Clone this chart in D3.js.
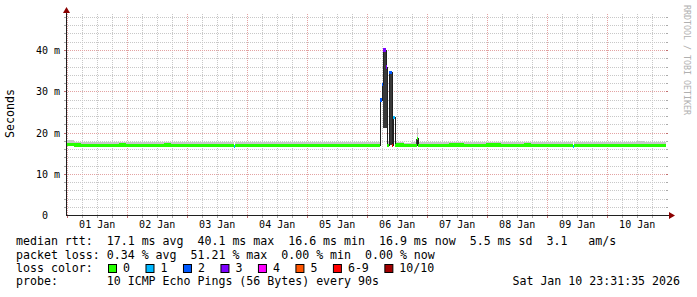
<!DOCTYPE html>
<html>
<head>
<meta charset="utf-8">
<script src="https://cdnjs.cloudflare.com/ajax/libs/d3/7.8.5/d3.min.js"></script>
<style>
  body { margin: 0; background: #fff; }
  svg text { font-family: "DejaVu Sans Mono", monospace; white-space: pre; }
  .plot rect, .plot path, .grid line, .axes line { shape-rendering: crispEdges; }
</style>
</head>
<body>
<div id="vis1"></div>
<script>
// graph window: 10 days ending at the time stamp
var graphStart = new Date(2025, 11, 31, 23, 31, 35),
    graphEnd = new Date(2026, 0, 10, 23, 31, 35);

var dayLabels = ["01 Jan", "02 Jan", "03 Jan", "04 Jan", "05 Jan", "06 Jan", "07 Jan", "08 Jan", "09 Jan", "10 Jan"];
var yTicks = [0, 10, 20, 30, 40];
var yUnit = "m";

var lossLabels = ["0", "1", "2", "3", "4", "5", "6-9", "10/10"];
var lossColors = ["#26ff00", "#00b8ff", "#0059ff", "#7e00ff", "#ff00ff", "#ff5500", "#ff0000", "#a10000"];

// median rtt (ms), one value per 3 hours
var baseStep = 3;
var baseMedian = [
  17.2, 17.1, 17.0, 17.0, 16.9, 17.0, 17.0, 17.1,
  17.0, 16.9, 17.0, 17.0, 17.0, 17.1, 17.0, 16.9,
  17.0, 17.0, 16.9, 17.0, 17.0, 17.0, 16.9, 17.0,
  17.0, 17.0, 17.0, 16.9, 17.0, 17.0, 17.0, 17.0,
  17.0, 16.9, 17.0, 17.0, 17.0, 17.0, 17.0, 17.0,
  17.0, 17.0, 17.0, 17.0, 17.1, 16.9, 17.0, 17.0,
  17.0, 17.0, 17.0, 17.1, 17.1, 17.0, 17.0, 17.0,
  17.1, 17.1, 17.0, 17.0, 17.0, 17.1, 17.0, 17.0,
  17.0, 17.0, 17.0, 16.9, 17.0, 17.0, 17.0, 17.0,
  17.0, 17.0, 17.0, 17.0, 17.0, 17.0, 16.9, 17.0
];
// top of the smoke (slowest ping) per 3 hours
var baseSmoke = [
  18.4, 17.8, 17.7, 17.9, 17.8, 17.7, 17.9, 17.8,
  17.7, 17.9, 17.8, 17.8, 17.7, 17.9, 17.8, 17.7,
  17.9, 17.8, 17.7, 17.8, 17.9, 17.7, 17.8, 17.7,
  17.8, 17.7, 17.9, 17.7, 17.8, 17.7, 17.8, 17.7,
  17.7, 17.8, 17.7, 17.7, 17.8, 17.7, 17.8, 17.9,
  17.8, 17.9, 17.7, 17.8, 17.7, 17.6, 17.8, 17.8,
  17.8, 17.9, 17.8, 17.8, 17.7, 17.8, 17.9, 17.8,
  17.9, 17.8, 17.8, 17.7, 17.8, 17.8, 17.9, 17.7,
  17.8, 17.7, 17.8, 17.9, 17.8, 17.7, 17.8, 17.7,
  17.8, 17.9, 17.7, 17.8, 18.0, 17.7, 17.8, 17.7
];

// short steps where something happened (hours after graph start)
var detailStep = 0.4;
var detailHours   = [67.2, 125.6, 126.0, 126.4, 126.8, 127.2, 127.6, 128.0, 128.4, 128.8, 129.2, 129.6, 130.0, 130.4, 130.8, 131.2, 140.0, 140.4, 202.8];
var detailMedian  = [16.8, 28.0, 28.0, 31.8, 40.1, 40.1, 40.1, 36.0, 17.0, 17.0, 34.7, 34.7, 34.7, 17.0, 23.7, 23.7, 17.0, 18.6, 16.8];
var detailLoss    = [1, 2, 2, 2, 3, 3, 3, 3, 0, 0, 2, 2, 2, 6, 1, 1, 0, 0, 1];
var detailHaze    = [0, 17.8, 17.8, 17.8, 21.3, 21.3, 21.3, 21.3, 17.8, 17.8, 17.8, 17.8, 17.8, 17.8, 17.8, 17.8, 17.8, 21.2, 0];
var detailSmokeLo = [0, 0, 0, 0, 21.3, 21.3, 21.3, 21.3, 0, 0, 17.0, 17.0, 17.0, 0, 0, 0, 17.0, 17.0, 0];
var detailSmokeHi = [0, 0, 0, 0, 40.1, 40.1, 40.1, 36.0, 0, 0, 34.7, 34.7, 34.7, 0, 0, 0, 18.6, 18.6, 0];

var statRows = [
  "median rtt:  17.1 ms avg  40.1 ms max  16.6 ms min  16.9 ms now  5.5 ms sd  3.1   am/s",
  "packet loss: 0.34 % avg  51.21 % max  0.00 % min  0.00 % now",
  "loss color:",
  "probe:       10 ICMP Echo Pings (56 Bytes) every 90s"
];
var stampText = "Sat Jan 10 23:31:35 2026";
var yTitle = "Seconds";
var watermark = "RRDTOOL / TOBI OETIKER";

var width = 697, height = 297;
var x0 = 66, x1 = 666, yBottom = 215.5, yTop = 14;

var svg = d3.select("#vis1")
    .append("svg")
    .attr("width", width)
    .attr("height", height);

svg.append("rect").attr("width", width).attr("height", height).attr("fill", "#fff");

var x = d3.scaleTime().domain([graphStart, graphEnd]).range([x0, x1]);
var y = d3.scaleLinear().domain([0, 40]).range([yBottom, 50.5]);

function hoursToDate(h) { return new Date(graphStart.getTime() + h * 3600000); }
function px(v) { return Math.round(v - 0.5) + 0.5; }

// grid
var grid = svg.append("g").attr("class", "grid");
var minorX = d3.timeHour.every(6).range(graphStart, graphEnd).filter(function(d) { return d.getHours() !== 0; });
var majorX = d3.timeDay.range(graphStart, graphEnd);
var minorY = d3.range(2, 49, 2).filter(function(v) { return v % 10 !== 0; });
var majorY = yTicks.filter(function(v) { return v > 0; });

grid.selectAll(".vminor").data(minorX).enter().append("line")
    .attr("x1", function(d) { return px(x(d)); }).attr("x2", function(d) { return px(x(d)); })
    .attr("y1", yTop).attr("y2", yBottom)
    .style("stroke", "#c8c8c8").style("stroke-dasharray", "1,1");
grid.selectAll(".hminor").data(minorY).enter().append("line")
    .attr("x1", x0).attr("x2", x1)
    .attr("y1", function(d) { return px(y(d)); }).attr("y2", function(d) { return px(y(d)); })
    .style("stroke", "#c8c8c8").style("stroke-dasharray", "1,1");
grid.selectAll(".vmajor").data(majorX).enter().append("line")
    .attr("x1", function(d) { return px(x(d)); }).attr("x2", function(d) { return px(x(d)); })
    .attr("y1", yTop).attr("y2", yBottom)
    .style("stroke", "#e3a3a3").style("stroke-dasharray", "1,1");
grid.selectAll(".hmajor").data(majorY).enter().append("line")
    .attr("x1", x0).attr("x2", x1)
    .attr("y1", function(d) { return px(y(d)); }).attr("y2", function(d) { return px(y(d)); })
    .style("stroke", "#e3a3a3").style("stroke-dasharray", "1,1");

// little outside ticks like rrdtool
grid.selectAll(".ytick").data(minorY.concat(majorY)).enter().append("line")
    .attr("x1", x0 - 2).attr("x2", x0)
    .attr("y1", function(d) { return px(y(d)); }).attr("y2", function(d) { return px(y(d)); })
    .style("stroke", function(d) { return d % 10 === 0 ? "#c07070" : "#aaa"; });
grid.selectAll(".ytickr").data(minorY.concat(majorY)).enter().append("line")
    .attr("x1", x1).attr("x2", x1 + 2)
    .attr("y1", function(d) { return px(y(d)); }).attr("y2", function(d) { return px(y(d)); })
    .style("stroke", function(d) { return d % 10 === 0 ? "#c07070" : "#aaa"; });
grid.selectAll(".xtick").data(minorX.concat(majorX)).enter().append("line")
    .attr("x1", function(d) { return px(x(d)); }).attr("x2", function(d) { return px(x(d)); })
    .attr("y1", yBottom).attr("y2", yBottom + 2)
    .style("stroke", function(d) { return d.getHours() === 0 ? "#c07070" : "#aaa"; });

// build samples: base steps with the detail steps cut in
var details = detailHours.map(function(h, i) {
  return {t0: h, t1: h + detailStep, med: detailMedian[i], loss: detailLoss[i],
          haze: detailHaze[i], lo: detailSmokeLo[i], hi: detailSmokeHi[i]};
});
var samples = [];
baseMedian.forEach(function(m, i) {
  var a = i * baseStep, b = a + baseStep, cur = a;
  var base = {med: m, loss: 0, haze: baseSmoke[i], lo: 0, hi: 0};
  details.filter(function(d) { return d.t1 > a && d.t0 < b; })
    .sort(function(p, q) { return p.t0 - q.t0; })
    .forEach(function(d) {
      if (d.t0 > cur) samples.push(Object.assign({t0: cur, t1: d.t0}, base));
      cur = Math.max(cur, d.t1);
    });
  if (cur < b) samples.push(Object.assign({t0: cur, t1: b}, base));
});
samples = samples.concat(details).sort(function(p, q) { return p.t0 - q.t0; });

var plot = svg.append("g").attr("class", "plot");

// light smoke
plot.selectAll(".haze").data(samples.filter(function(d) { return d.haze > 0; })).enter().append("rect")
    .attr("x", function(d) { return x(hoursToDate(d.t0)); })
    .attr("width", function(d) { return x(hoursToDate(d.t1)) - x(hoursToDate(d.t0)); })
    .attr("y", function(d) { return y(d.haze); })
    .attr("height", function(d) { return Math.max(0, y(d.med) - y(d.haze)); })
    .style("fill", "#c8c8c8");

// dark smoke where pings spread widely
plot.selectAll(".smoke").data(samples.filter(function(d) { return d.hi > 0; })).enter().append("rect")
    .attr("x", function(d) { return x(hoursToDate(d.t0)); })
    .attr("width", function(d) { return x(hoursToDate(d.t1)) - x(hoursToDate(d.t0)); })
    .attr("y", function(d) { return y(d.hi); })
    .attr("height", function(d) { return y(d.lo) - y(d.hi); })
    .style("fill", "#3a3a3a");

// median line (dark), then loss coloured bands on it
var linePts = samples.map(function(d) { return [hoursToDate(d.t0), d.med]; });
linePts.push([hoursToDate(samples[samples.length - 1].t1), samples[samples.length - 1].med]);
plot.append("path")
    .datum(linePts)
    .attr("d", d3.line().curve(d3.curveStepAfter)
      .x(function(d) { return x(d[0]); })
      .y(function(d) { return y(d[1]); }))
    .style("fill", "none")
    .style("stroke", "#202020")
    .style("stroke-width", 1);

plot.selectAll(".band").data(samples).enter().append("rect")
    .attr("x", function(d) { return x(hoursToDate(d.t0)); })
    .attr("width", function(d) { return x(hoursToDate(d.t1)) - x(hoursToDate(d.t0)); })
    .attr("y", function(d) { return y(d.med) - 1.7; })
    .attr("height", 3.4)
    .style("fill", function(d) { return lossColors[d.loss]; });

// axes with arrows
var axisG = svg.append("g").attr("class", "axes");
axisG.append("line").attr("x1", x0).attr("x2", x1 + 4).attr("y1", yBottom).attr("y2", yBottom)
    .style("stroke", "#202020");
axisG.append("line").attr("x1", x0 + 0.5).attr("x2", x0 + 0.5).attr("y1", yBottom).attr("y2", yTop - 2)
    .style("stroke", "#202020");
axisG.append("path").attr("d", "M" + (x1 + 3) + "," + (yBottom - 3.5) + "L" + (x1 + 9) + "," + yBottom + "L" + (x1 + 3) + "," + (yBottom + 3.5) + "Z")
    .style("fill", "#8b0000");
axisG.append("path").attr("d", "M" + (x0 - 3) + "," + (yTop - 1) + "L" + (x0 + 0.5) + "," + (yTop - 7) + "L" + (x0 + 4) + "," + (yTop - 1) + "Z")
    .style("fill", "#8b0000");

// y labels
var yl = svg.append("g").attr("class", "ylabels").style("font-size", "10px").style("fill", "#000");
yl.selectAll(".ynum").data(yTicks).enter().append("text")
    .attr("x", 48).attr("y", function(d) { return px(y(d)) + 3.5; })
    .attr("text-anchor", "end")
    .text(function(d) { return d; });
yl.selectAll(".yunit").data(yTicks.filter(function(d) { return d > 0; })).enter().append("text")
    .attr("x", 54).attr("y", function(d) { return px(y(d)) + 3.5; })
    .text(yUnit);

// x labels at noon
svg.append("g").attr("class", "xlabels").style("font-size", "10px")
  .selectAll("text").data(dayLabels).enter().append("text")
    .attr("x", function(d, i) { return x(new Date(2026, 0, i + 1, 12)); })
    .attr("y", 228)
    .attr("text-anchor", "middle")
    .text(function(d) { return d; });

svg.append("text")
    .attr("transform", "translate(14,113.5) rotate(-90)")
    .attr("text-anchor", "middle")
    .style("font-size", "11.6px")
    .text(yTitle);

svg.append("text")
    .attr("transform", "translate(684,5) rotate(90)")
    .style("font-size", "8.3px")
    .style("fill", "#b0b0b0")
    .text(watermark);

// legend
var rowY = [245, 258.5, 272, 285];
var legend = svg.append("g").attr("class", "legend").style("font-size", "11.6px");
legend.selectAll(".row").data(statRows).enter().append("text")
    .attr("x", 16).attr("y", function(d, i) { return rowY[i]; })
    .text(function(d) { return d; });
legend.append("text").attr("x", 680).attr("y", rowY[3]).attr("text-anchor", "end").text(stampText);

var bx = 108.5;
lossLabels.forEach(function(lab, i) {
  legend.append("rect")
      .attr("x", bx).attr("y", 264.5).attr("width", 8).attr("height", 8)
      .style("fill", lossColors[i]).style("stroke", "#000");
  var t = legend.append("text").attr("x", bx + 14.5).attr("y", rowY[2]).text(lab);
  bx = bx + 14.5 + t.node().getComputedTextLength() + 16;
});
</script>
</body>
</html>
